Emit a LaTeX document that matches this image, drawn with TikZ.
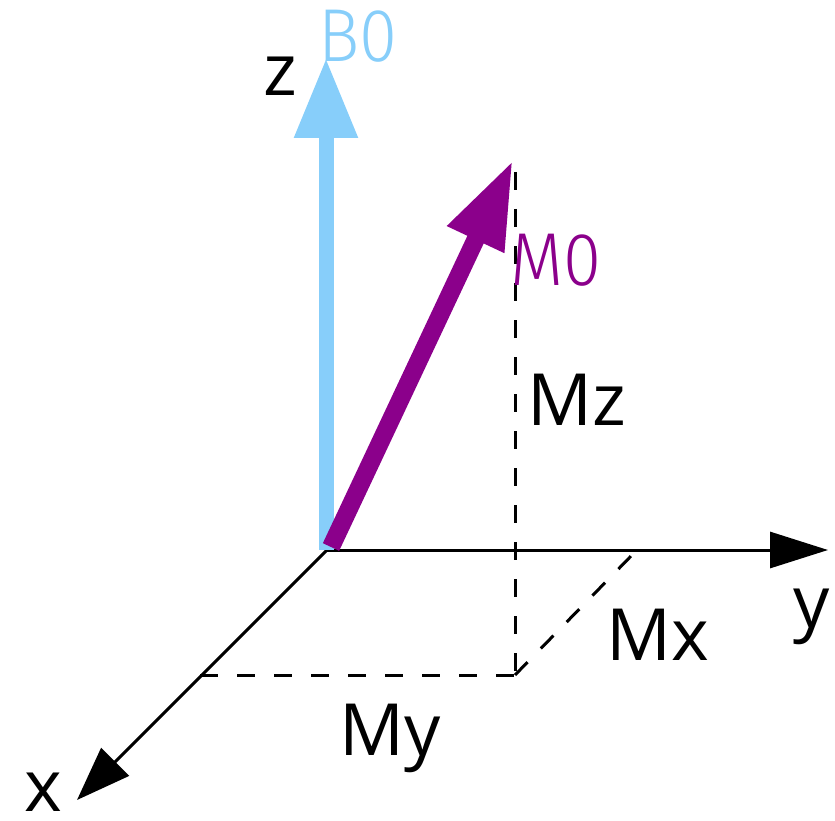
\documentclass[tikz,border=0pt]{standalone}
\usepackage{fontspec}
\setmainfont{Open Sans}
\newfontfamily\narrowfont[FakeStretch=0.92]{Fira Sans Light}
\usetikzlibrary{arrows.meta}
\definecolor{bzero}{HTML}{87CEFA}
\definecolor{mzero}{HTML}{8B008B}
\tikzset{
  axis/.style={draw=black, line width=3pt},
  dashline/.style={draw=black, line width=3pt, dash pattern=on 18pt off 19pt},
  lbl/.style={inner sep=0pt, anchor=base west, font=\fontsize{72}{86}\selectfont},
  vlbl/.style={inner sep=0pt, anchor=base west, font=\narrowfont\fontsize{75}{90}\selectfont},
}
\begin{document}
\begin{tikzpicture}[x=1pt,y=-1pt]
\useasboundingbox (0,0) rectangle (835,821);
\coordinate (O) at (327,550);
\coordinate (Oz) at (326,550);
\coordinate (Om) at (331,547);
\coordinate (Ytip) at (828,550);
\coordinate (Xtip) at (77,800);
\coordinate (Btip) at (326,58);
\coordinate (Mtip) at (513,160);
\coordinate (Dtop) at (515,172);
\coordinate (P) at (515,675);
\coordinate (Px) at (200,675);
\coordinate (Py) at (634,553);
% dashed projections
\draw[dashline] (Dtop) -- (P);
\draw[dashline] (Px) -- (P);
\draw[dashline] (P) -- (Py);
% axes
\draw[axis, -{Triangle[length=58pt,width=36pt]}] (O) -- (Ytip);
\draw[axis, -{Triangle[length=54pt,width=39pt]}] (O) -- (Xtip);
% B0
\draw[draw=bzero, line width=15pt, -{Triangle[length=80pt,width=60pt]}] (Oz) -- (Btip);
% M0
\draw[draw=mzero, line width=18pt, -{Triangle[length=88pt,width=58pt]}] (Om) -- (Mtip);
% labels
\node[lbl] (lz) at (263,96) {z};
\node[lbl] (ly) at (793,627) {y};
\node[lbl] (lx) at (24,811) {x};
\node[lbl] (lmz) at (527,425) {Mz};
\node[lbl] (lmx) at (606,660) {Mx};
\node[lbl] (lmy) at (339,755) {My};
\node[vlbl, text=bzero] (lb0) at (318,62) {B0};
\node[vlbl, text=mzero] (lm0) at (510,285) {M0};
\end{tikzpicture}
\end{document}
